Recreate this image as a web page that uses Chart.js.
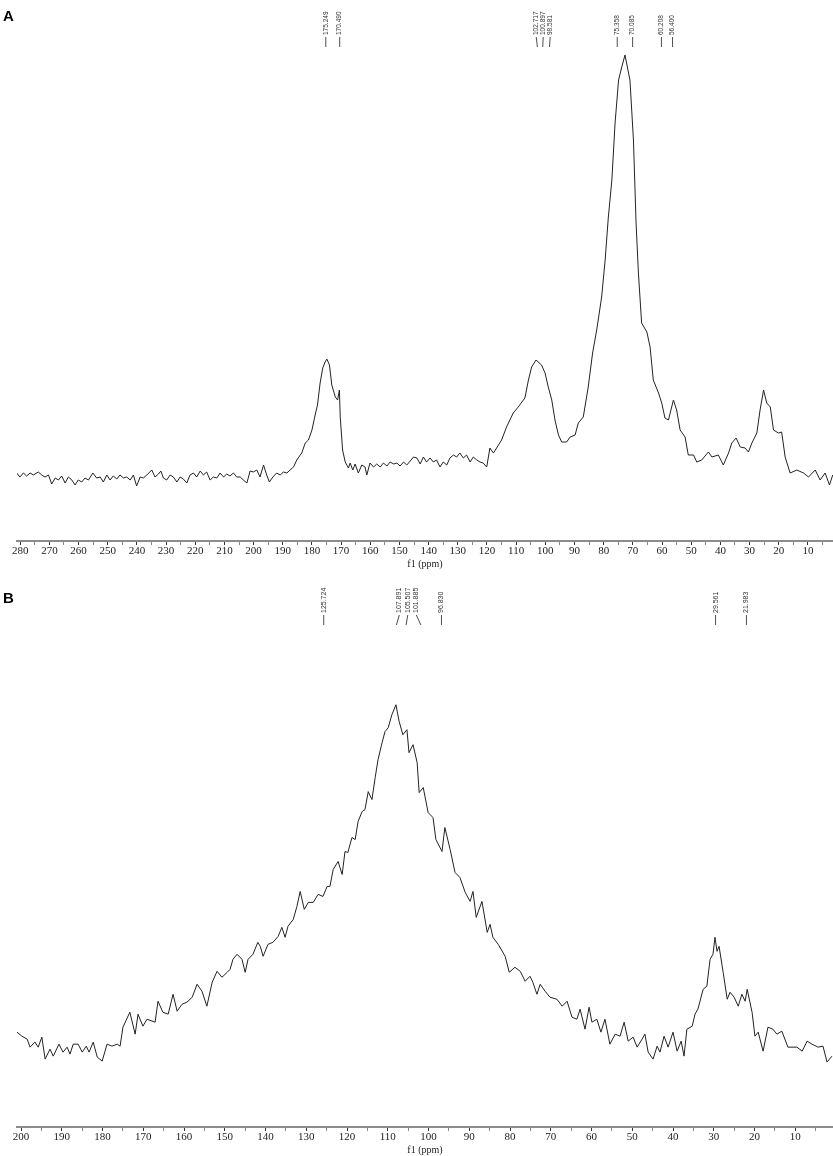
<!DOCTYPE html>
<html>
<head>
<meta charset="utf-8">
<title>13C NMR spectra</title>
<script src="https://cdn.jsdelivr.net/npm/chart.js@4.4.1/dist/chart.umd.min.js"></script>
<style>
  html, body { margin: 0; padding: 0; background: #fff; }
  body { position: relative; width: 833px; height: 1156px; overflow: hidden; }
  canvas { position: absolute; left: 0; }
  .tag { position: absolute; left: 3px; z-index: 2; font: bold 15px "Liberation Sans", Arial, sans-serif; color: #000; }
</style>
</head>
<body>
<canvas id="specA" width="833" height="570" style="top:0"></canvas>
<canvas id="specB" width="833" height="586" style="top:570px"></canvas>
<div class="tag" style="top:7px">A</div>
<div class="tag" style="top:589px">B</div>
<script>
// Spectrum A: chemical shift (ppm) and intensity (a.u.)
const ppmA = [
  281.2, 280.1, 278.9, 277.8, 276.6, 275.5, 273.8, 272.6, 271.5, 270.3, 269.2, 268.0, 266.9, 265.8, 264.6,
  263.5, 262.3, 261.2, 260.1, 258.9, 257.8, 256.6, 255.1, 253.8, 252.6, 251.5, 250.3, 249.2, 248.1, 246.9,
  245.8, 244.6, 243.5, 242.3, 241.2, 240.1, 238.9, 237.8, 236.6, 234.9, 233.8, 232.6, 231.8, 230.9, 229.8,
  228.6, 227.5, 226.3, 225.2, 224.1, 222.9, 221.8, 220.6, 219.5, 218.3, 217.2, 216.1, 214.9, 213.8, 212.6,
  211.5, 210.3, 209.2, 208.1, 206.9, 205.8, 204.6, 203.5, 202.3, 201.2, 200.1, 198.9, 197.8, 196.6, 195.5,
  194.6, 193.4, 192.1, 190.9, 189.8, 188.6, 187.5,
  186.3, 185.2, 184.0, 183.5, 182.3, 181.2, 180.0, 178.9, 178.1, 177.2, 176.3, 175.5, 174.9, 174.0, 173.2,
  172.0, 171.2, 170.6, 170.3, 169.5, 168.6, 167.5,
  166.9, 166.0, 165.2, 164.1, 162.9, 161.8, 161.2, 160.1, 158.9, 157.8, 156.6, 155.5, 154.3, 153.2, 152.0,
  150.9, 149.8, 148.6, 147.5, 146.3, 145.2, 144.0, 142.9, 141.8, 140.7, 139.5, 138.4, 137.3, 136.1, 135.0,
  133.8, 132.7, 131.5, 130.4, 129.3, 128.1, 127.0, 125.8, 124.7, 123.5, 122.4, 121.3, 120.1,
  119.0, 117.8, 116.7, 115.0, 113.3, 111.0, 109.3, 107.0, 105.8, 104.7, 103.2, 101.3, 100.1, 99.0, 97.8,
  96.7, 95.5, 94.4, 92.7, 91.5, 89.8, 88.7, 87.0, 85.3, 83.8, 82.4, 80.7, 79.5, 78.4, 77.2,
  76.1, 74.9, 73.8, 72.7, 71.0, 69.8, 68.9, 68.1, 67.0, 65.2, 64.1, 63.0, 61.2, 60.1, 59.0,
  57.8, 56.1, 55.0, 53.8, 52.1, 51.0, 49.2, 48.1, 46.4, 44.1, 42.9, 40.7, 39.0, 37.2, 36.1,
  34.6, 33.2, 31.5, 30.4, 29.2, 27.5, 26.4, 25.2, 24.1, 22.9, 21.8, 20.1, 19.0, 17.8, 16.1,
  13.8, 11.5, 9.8, 7.5, 5.8, 4.1, 2.6, 1.5
];
const intA = [
  17, 13, 17, 14, 17, 15, 18, 15, 13, 15, 6, 12, 10, 14, 7,
  13, 10, 5, 10, 8, 12, 10, 17, 12, 13, 8, 15, 10, 14, 11,
  15, 12, 13, 10, 15, 4, 13, 12, 15, 20, 13, 16, 19, 12, 10,
  15, 13, 8, 13, 11, 7, 15, 17, 13, 19, 15, 18, 10, 13, 12,
  17, 13, 16, 14, 17, 13, 13, 10, 7, 19, 18, 20, 13, 25, 15,
  8, 13, 17, 15, 18, 17, 20,
  23, 30, 35, 37, 47, 50, 60, 75, 85, 107, 122, 128, 131, 125, 105,
  93, 90, 100, 73, 40, 28, 22,
  27, 20, 26, 17, 25, 23, 15, 27, 23, 26, 23, 27, 24, 28, 26,
  27, 24, 28, 25, 29, 33, 32, 26, 33, 28, 32, 28, 30, 23, 28,
  25, 32, 35, 33, 37, 32, 35, 28, 33, 30, 28, 27, 23,
  42, 37, 42, 50, 63, 77, 83, 92, 110, 123, 130, 125, 117, 103, 90,
  70, 55, 48, 48, 53, 55, 67, 73, 103, 137, 160, 193, 230, 273, 310,
  367, 410, 423, 435, 410, 350, 267, 217, 167, 158, 143, 110, 97, 87, 72,
  70, 90, 80, 60, 53, 35, 35, 28, 30, 38, 33, 35, 25, 37, 47,
  52, 43, 42, 38, 47, 57, 80, 100, 87, 83, 60, 57, 58, 33, 17,
  20, 17, 13, 20, 10, 17, 5, 15
];
const peaksA = [175.249, 170.490, 102.717, 100.897, 98.581, 75.358, 70.085, 60.208, 56.400];

// Spectrum B
const ppmB = [
  201.0, 199.8, 198.5, 197.8, 196.6, 195.8, 194.9, 194.1, 192.9, 192.1, 190.7, 189.7, 188.7, 188.0, 187.2,
  186.0, 185.0, 184.0, 183.3, 182.3, 181.3, 180.1, 178.9, 177.7, 176.4, 175.7, 175.0, 173.3, 172.0, 171.3,
  170.1, 169.1, 167.1, 166.4, 165.2, 163.9, 162.7, 161.7, 160.5, 159.3, 158.0, 156.8, 155.6, 154.4, 153.1,
  151.9, 150.7, 149.4, 148.7, 148.0, 147.0, 145.8, 145.0, 144.3, 143.1, 141.9, 141.3, 140.6, 139.4, 138.2,
  136.9, 136.0, 135.2, 134.5, 133.2, 132.3, 131.5, 130.5, 129.5, 128.3, 127.1, 125.9, 124.9, 124.2, 123.4,
  122.2, 121.2, 120.5, 119.8, 118.8, 118.0, 117.3, 116.3, 115.6, 114.8, 113.9, 113.1, 112.4, 111.4, 110.7,
  109.9, 109.0, 108.0, 107.2, 106.3, 105.3, 104.8, 103.8, 102.8, 102.3, 101.3, 100.1, 98.9, 98.2, 96.7,
  96.0, 94.7, 93.5, 92.3, 91.0, 89.8, 89.1, 88.3, 86.9, 85.6, 84.9, 84.2, 82.9, 81.2, 80.2,
  78.8, 77.5, 76.3, 75.1, 74.4, 73.4, 72.6, 71.4, 70.2, 68.5, 67.2, 66.0, 64.8, 63.6, 62.8,
  61.6, 60.6, 59.9, 58.7, 57.7, 56.7, 55.5, 54.2, 53.0, 52.0, 51.0, 49.8, 48.8, 47.6, 46.9,
  46.1, 44.9, 43.9, 43.2, 42.2, 41.2, 40.0, 39.0, 38.0, 37.3, 36.6, 35.3, 34.6, 33.9, 32.6,
  31.7, 30.9, 30.2, 29.7, 29.2, 28.7, 27.7, 26.7, 26.0, 25.0, 24.0, 23.1, 22.3, 21.8, 20.6,
  19.9, 19.1, 17.9, 16.7, 15.5, 14.5, 13.3, 11.8, 9.6, 8.3, 7.1, 5.9, 4.4, 3.2, 2.2,
  1.0
];
const intB = [
  47, 43, 40, 32, 37, 32, 42, 20, 30, 23, 35, 27, 32, 25, 35,
  35, 27, 33, 27, 37, 22, 18, 35, 33, 35, 33, 52, 67, 45, 65,
  53, 60, 57, 78, 67, 65, 85, 68, 75, 77, 82, 95, 88, 73, 97,
  108, 102, 107, 110, 120, 125, 120, 107, 120, 125, 137, 133, 123, 135, 137,
  143, 152, 142, 153, 160, 173, 188, 170, 177, 177, 185, 183, 193, 193, 210,
  218, 205, 228, 227, 242, 240, 258, 268, 270, 288, 280, 302, 320, 337, 348,
  352, 365, 375, 358, 345, 350, 327, 335, 317, 287, 292, 267, 262, 240, 228,
  252, 230, 207, 202, 187, 178, 188, 162, 178, 147, 155, 142, 135, 123, 107,
  112, 108, 98, 103, 97, 85, 95, 88, 82, 80, 73, 78, 62, 60, 70,
  50, 72, 57, 60, 47, 60, 35, 45, 43, 57, 38, 42, 32, 40, 45,
  27, 20, 33, 27, 43, 32, 47, 28, 38, 23, 50, 53, 65, 70, 90,
  93, 120, 125, 142, 128, 133, 107, 80, 87, 82, 73, 85, 78, 90, 67,
  43, 47, 28, 52, 50, 45, 48, 32, 32, 28, 38, 35, 32, 33, 17,
  23
];
const peaksB = [125.724, 107.891, 105.507, 101.885, 96.830, 29.561, 21.983];

const serif = '"Liberation Serif", "DejaVu Serif", serif';

// peaks closer than `near` px are fanned out evenly around their mean
function spreadLabels(xs, near, gap) {
  const out = xs.slice();
  let i = 0;
  while (i < xs.length) {
    let j = i;
    while (j + 1 < xs.length && Math.abs(xs[j + 1] - xs[j]) < near) j++;
    const n = j - i + 1;
    if (n > 1) {
      const mid = xs.slice(i, j + 1).reduce((a, b) => a + b, 0) / n;
      for (let k = i; k <= j; k++) out[k] = mid + (k - i - (n - 1) / 2) * gap;
    }
    i = j + 1;
  }
  return out;
}

const peakLabels = {
  id: 'peakLabels',
  afterDraw(chart, args, opts) {
    const xs = chart.scales.x;
    const ctx = chart.ctx;
    const pos = opts.values.map(v => xs.getPixelForValue(v));
    const lab = spreadLabels(pos, opts.near, opts.gap);
    ctx.save();
    ctx.strokeStyle = '#3a3a3a';
    ctx.lineWidth = 0.9;
    ctx.fillStyle = '#333';
    ctx.font = opts.size + 'px "Liberation Sans", Arial, sans-serif';
    opts.values.forEach((v, i) => {
      ctx.beginPath();
      ctx.moveTo(lab[i], opts.base + 1);
      ctx.lineTo(pos[i], opts.base + 11);
      ctx.stroke();
      ctx.save();
      ctx.translate(lab[i], opts.base - 1);
      ctx.rotate(-Math.PI / 2);
      ctx.textAlign = 'left';
      ctx.textBaseline = 'middle';
      ctx.fillText(v.toFixed(3), 0, 0);
      ctx.restore();
    });
    ctx.restore();
  }
};

function xAxis(min, max) {
  return {
    type: 'linear',
    reverse: true,
    min: min,
    max: max,
    afterFit: s => { s.height = 29; },
    border: { display: true, color: '#8c8c8c', width: 2 },
    grid: {
      drawOnChartArea: false,
      drawTicks: true,
      tickLength: 4,
      tickWidth: 1,
      tickColor: c => (c.tick && c.tick.value % 10 === 0) ? '#333' : '#888'
    },
    ticks: {
      stepSize: 5,
      includeBounds: false,
      autoSkip: false,
      maxRotation: 0,
      padding: 0,
      color: '#222',
      font: { family: serif, size: 11 },
      callback: v => (v % 10 === 0 ? String(v) : '')
    },
    title: {
      display: true,
      text: 'f1 (ppm)',
      color: '#222',
      font: { family: serif, size: 10 },
      padding: 0
    }
  };
}

function makeSpectrum(id, ppm, inten, xr, yr, labelOpts) {
  const points = ppm.map((p, i) => ({ x: p, y: inten[i] }));
  return new Chart(document.getElementById(id), {
    type: 'line',
    data: {
      datasets: [{
        data: points,
        borderColor: '#222',
        borderWidth: 1,
        pointRadius: 0,
        tension: 0,
        fill: false
      }]
    },
    options: {
      responsive: false,
      animation: false,
      layout: { autoPadding: false, padding: { left: 17, right: 0, top: 0, bottom: 0 } },
      plugins: {
        legend: { display: false },
        tooltip: { enabled: false },
        peakLabels: labelOpts
      },
      scales: {
        x: xAxis(xr[0], xr[1]),
        y: { display: false, min: yr[0], max: yr[1] }
      }
    },
    plugins: [peakLabels]
  });
}

makeSpectrum('specA', ppmA, intA, [1.4, 281.1], [-51, 490],
  { values: peaksA, near: 10, gap: 7, base: 36, size: 6.5 });
makeSpectrum('specB', ppmB, intB, [0.74, 201.0], [-48, 510],
  { values: peaksB, near: 16, gap: 8.5, base: 44, size: 7 });
</script>
</body>
</html>
